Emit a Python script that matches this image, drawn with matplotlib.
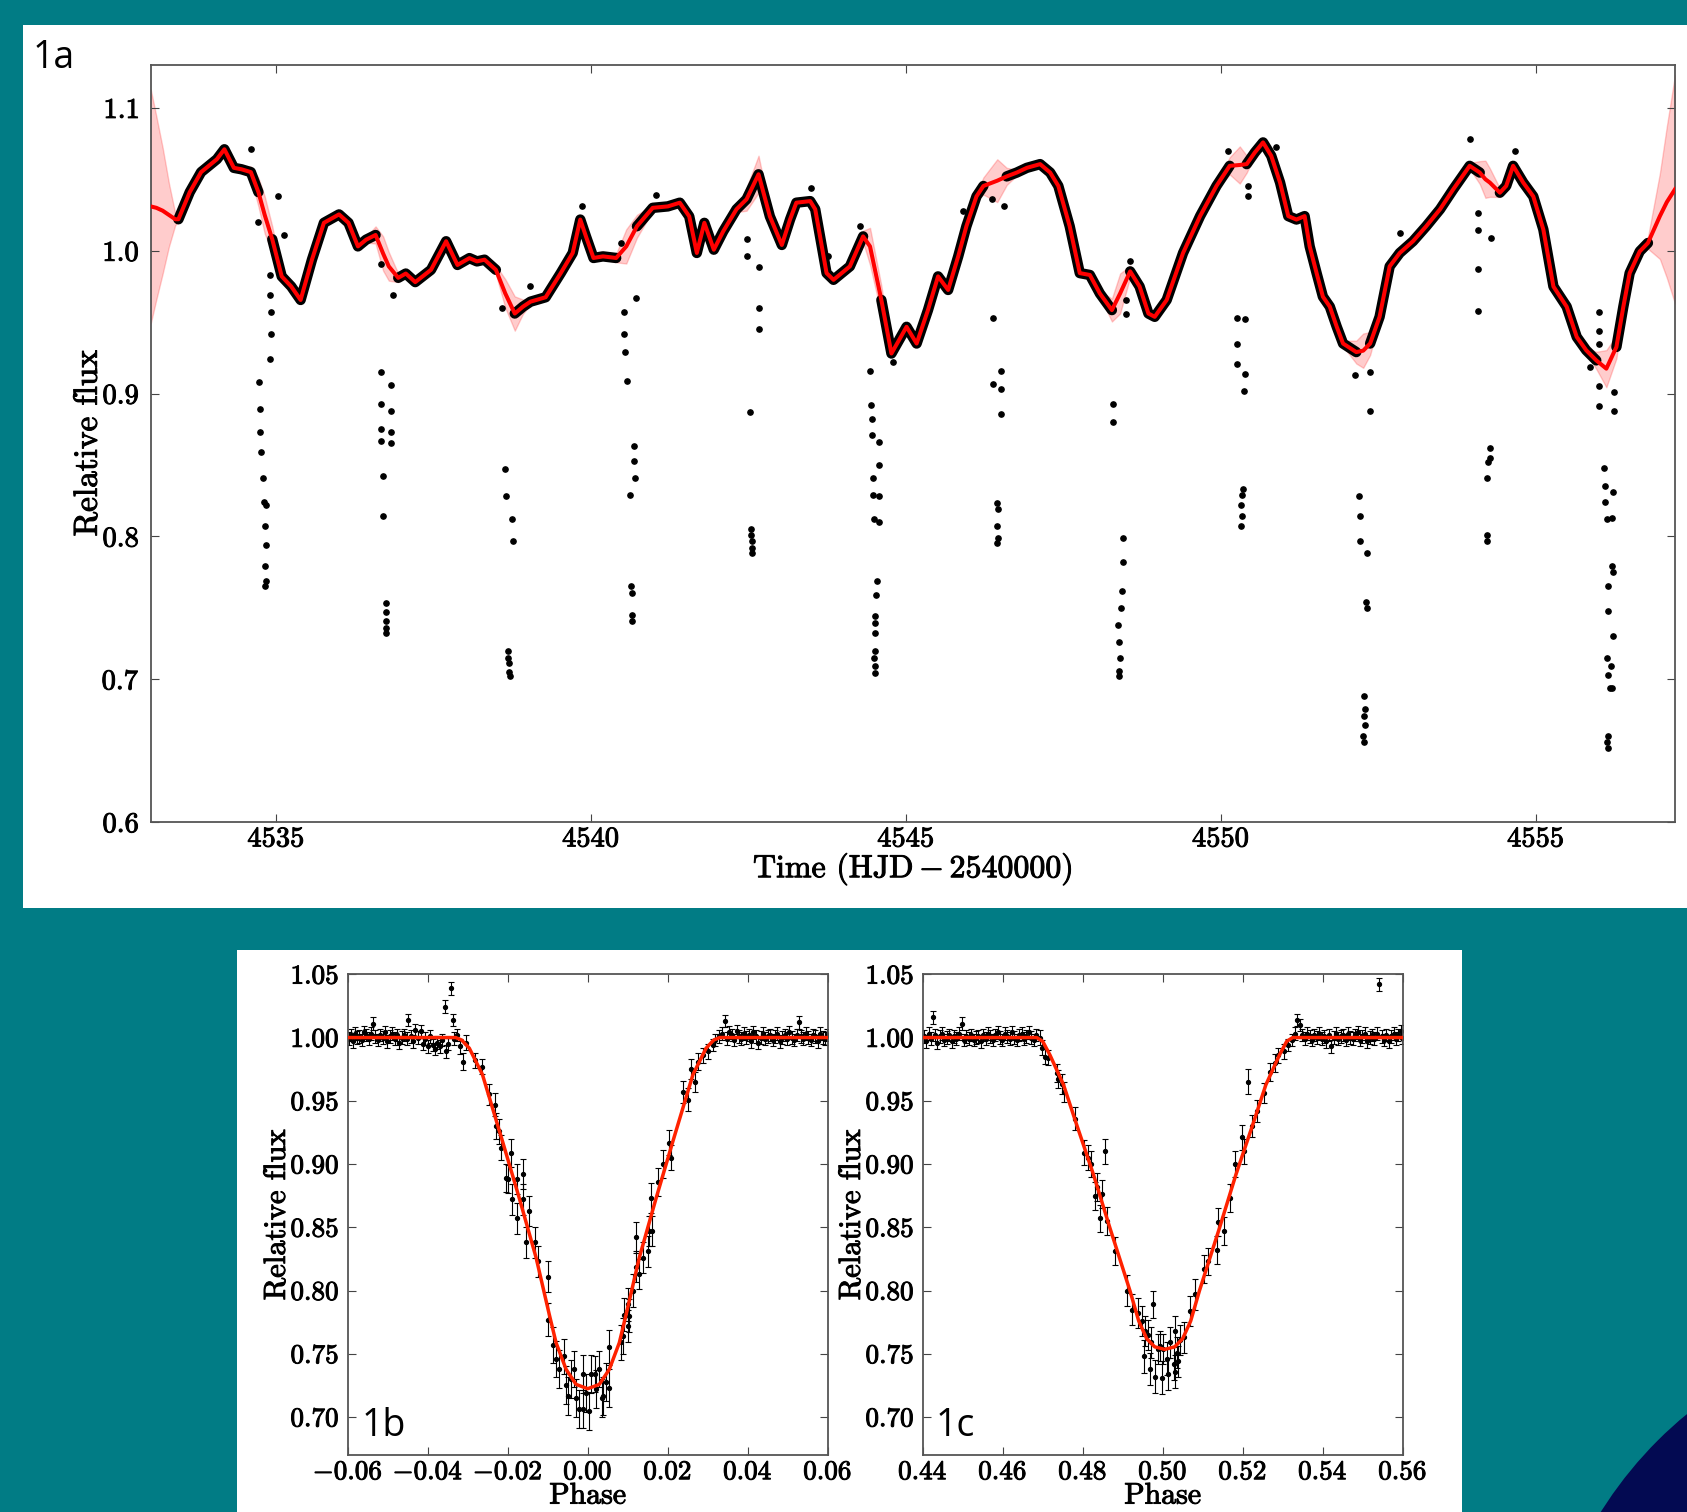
import numpy as np
import matplotlib
matplotlib.use("Agg")
import matplotlib.pyplot as plt
import matplotlib.patheffects as pe
from matplotlib.patches import Rectangle, Circle
from matplotlib.ticker import MultipleLocator, ScalarFormatter

plt.rcParams['font.family'] = 'serif'
plt.rcParams['font.serif'] = ['cmr10']
plt.rcParams['mathtext.fontset'] = 'cm'
plt.rcParams['axes.formatter.use_mathtext'] = True
plt.rcParams['axes.unicode_minus'] = True

TEAL = '#017c85'
NAVY = '#030a52'
HEAVY = [pe.withStroke(linewidth=0.7, foreground='black')]

# ---------------- light curve (1a) ----------------
# GP mean and half-width of its confidence band
t_gp = [4533.01, 4533.10, 4533.20, 4533.30, 4533.40, 4533.45, 4533.63, 4533.81, 4534.06, 4534.18,
        4534.33, 4534.45, 4534.60, 4534.72, 4534.82, 4534.94, 4535.09, 4535.24, 4535.39, 4535.57,
        4535.76, 4536.00, 4536.15, 4536.30, 4536.43, 4536.58, 4536.70, 4536.79, 4536.94, 4537.06,
        4537.21, 4537.46, 4537.70, 4537.88, 4538.07, 4538.19, 4538.31, 4538.49, 4538.64, 4538.79,
        4538.92, 4539.04, 4539.28, 4539.52, 4539.71, 4539.83, 4539.92, 4540.04, 4540.19, 4540.40,
        4540.56, 4540.73, 4540.98, 4541.22, 4541.41, 4541.56, 4541.68, 4541.80, 4541.95, 4542.10,
        4542.31, 4542.47, 4542.66, 4542.84, 4543.03, 4543.16, 4543.26, 4543.48, 4543.56, 4543.74,
        4543.85, 4544.11, 4544.32, 4544.43, 4544.61, 4544.77, 4545.01, 4545.17, 4545.35, 4545.51,
        4545.67, 4545.83, 4545.96, 4546.12, 4546.23, 4546.45, 4546.60, 4546.76, 4546.92, 4547.13,
        4547.29, 4547.42, 4547.60, 4547.76, 4547.92, 4548.08, 4548.27, 4548.40, 4548.56, 4548.71,
        4548.85, 4548.95, 4549.14, 4549.40, 4549.67, 4549.93, 4550.14, 4550.30, 4550.41, 4550.54,
        4550.67, 4550.80, 4550.94, 4551.07, 4551.20, 4551.33, 4551.41, 4551.52, 4551.62, 4551.73,
        4551.84, 4551.94, 4552.15, 4552.26, 4552.37, 4552.52, 4552.68, 4552.84, 4553.05, 4553.26,
        4553.48, 4553.69, 4553.95, 4554.11, 4554.20, 4554.27, 4554.43, 4554.53, 4554.64, 4554.80,
        4554.96, 4555.12, 4555.28, 4555.49, 4555.65, 4555.80, 4555.96, 4556.12, 4556.28, 4556.39,
        4556.49, 4556.65, 4556.78, 4556.97, 4557.08, 4557.21]
f_gp = [1.031, 1.030, 1.028, 1.025, 1.022, 1.022, 1.041, 1.055, 1.064, 1.071,
        1.058, 1.057, 1.055, 1.041, 1.025, 1.008, 0.982, 0.975, 0.9655, 0.9937,
        1.0195, 1.0254, 1.0195, 1.003, 1.0077, 1.011, 0.998, 0.989, 0.981, 0.984,
        0.978, 0.9866, 1.0066, 0.990, 0.9948, 0.9925, 0.9937, 0.9866, 0.970, 0.956,
        0.9608, 0.9643, 0.9674, 0.9843, 0.9984, 1.0218, 1.010, 0.9949, 0.996, 0.9949,
        1.003, 1.0171, 1.030, 1.031, 1.0336, 1.024, 0.9984, 1.0195, 1.0007, 1.0136,
        1.029, 1.036, 1.0535, 1.024, 1.004, 1.0218, 1.0336, 1.0347, 1.029, 0.9843,
        0.9796, 0.989, 1.010, 1.003, 0.9655, 0.928, 0.9467, 0.935, 0.9584, 0.982,
        0.9725, 0.996, 1.0171, 1.038, 1.0453, 1.049, 1.052, 1.0547, 1.058, 1.0606,
        1.0547, 1.0453, 1.0171, 0.9843, 0.983, 0.970, 0.9584, 0.970, 0.9855, 0.9749,
        0.956, 0.9537, 0.9655, 0.9984, 1.0242, 1.0453, 1.0594, 1.060, 1.0606, 1.0688,
        1.0758, 1.0664, 1.0477, 1.0242, 1.0218, 1.0242, 1.003, 0.9843, 0.9678, 0.9608,
        0.9467, 0.935, 0.929, 0.930, 0.935, 0.9537, 0.989, 0.9984, 1.0066, 1.0171,
        1.029, 1.043, 1.0594, 1.0547, 1.050, 1.0477, 1.0406, 1.0453, 1.0594, 1.0477,
        1.038, 1.0148, 0.9749, 0.9608, 0.9396, 0.9303, 0.9232, 0.9174, 0.9326, 0.9608,
        0.9843, 0.9995, 1.0054, 1.0242, 1.034, 1.043]
s_gp = [0.082, 0.064, 0.044, 0.022, 0.004, 0.002, 0.002, 0.002, 0.002, 0.002,
        0.002, 0.002, 0.004, 0.010, 0.013, 0.009, 0.003, 0.002, 0.002, 0.002,
        0.002, 0.002, 0.002, 0.002, 0.002, 0.006, 0.012, 0.010, 0.003, 0.002,
        0.002, 0.002, 0.002, 0.002, 0.002, 0.002, 0.002, 0.003, 0.010, 0.012,
        0.005, 0.002, 0.002, 0.002, 0.002, 0.002, 0.002, 0.002, 0.002, 0.003,
        0.012, 0.008, 0.002, 0.002, 0.002, 0.002, 0.002, 0.002, 0.002, 0.002,
        0.002, 0.008, 0.013, 0.004, 0.002, 0.002, 0.002, 0.002, 0.002, 0.002,
        0.002, 0.002, 0.004, 0.013, 0.010, 0.002, 0.002, 0.002, 0.002, 0.002,
        0.002, 0.002, 0.002, 0.002, 0.006, 0.015, 0.006, 0.002, 0.002, 0.002,
        0.002, 0.002, 0.002, 0.002, 0.002, 0.002, 0.008, 0.014, 0.004, 0.002,
        0.002, 0.002, 0.002, 0.002, 0.002, 0.002, 0.006, 0.013, 0.006, 0.002,
        0.002, 0.002, 0.002, 0.002, 0.002, 0.002, 0.002, 0.002, 0.002, 0.002,
        0.002, 0.002, 0.008, 0.012, 0.008, 0.002, 0.002, 0.002, 0.002, 0.002,
        0.002, 0.002, 0.002, 0.008, 0.013, 0.010, 0.003, 0.002, 0.002, 0.002,
        0.002, 0.002, 0.002, 0.002, 0.002, 0.002, 0.006, 0.013, 0.008, 0.002,
        0.002, 0.002, 0.004, 0.030, 0.053, 0.080]

# span of the observations and mid-eclipse times
t_obs_start, t_obs_end = 4533.42, 4556.80
t_ecl = [4534.82, 4536.73, 4538.70, 4540.62, 4542.57, 4544.50,
         4546.44, 4548.39, 4550.32, 4552.26, 4554.20, 4556.13]

# individual measurements off the dense band (eclipse points and outliers)
pts_t = [4534.735, 4534.752, 4534.752, 4534.769, 4534.786, 4534.803, 4534.838, 4534.821, 4534.838, 4534.821,
         4534.838, 4534.821, 4534.906, 4534.906, 4534.923, 4534.923, 4534.906,
         4536.66, 4536.67, 4536.67, 4536.67, 4536.67, 4536.70, 4536.70, 4536.75, 4536.74,
         4536.75, 4536.75, 4536.74, 4536.82, 4536.82, 4536.82, 4536.82, 4536.86,
         4538.58, 4538.632, 4538.650, 4538.752, 4538.769, 4538.684, 4538.684, 4538.701, 4538.701, 4538.718,
         4540.53, 4540.53, 4540.547, 4540.564, 4540.72, 4540.684, 4540.684, 4540.701, 4540.615, 4540.632,
         4540.650, 4540.650, 4540.650,
         4542.47, 4542.47, 4542.53, 4542.66, 4542.66, 4542.66, 4542.547, 4542.547, 4542.564, 4542.564, 4542.564,
         4544.43, 4544.444, 4544.462, 4544.462, 4544.479, 4544.479, 4544.496, 4544.58, 4544.57, 4544.58,
         4544.565, 4544.547, 4544.53, 4544.513, 4544.513, 4544.513, 4544.513, 4544.496, 4544.513, 4544.513,
         4546.38, 4546.38, 4546.51, 4546.51, 4546.51, 4546.444, 4546.462, 4546.444, 4546.462, 4546.444,
         4548.29, 4548.29, 4548.49, 4548.49, 4548.444, 4548.444, 4548.427, 4548.41, 4548.36, 4548.376,
         4548.393, 4548.376, 4548.376,
         4550.25, 4550.38, 4550.25, 4550.25, 4550.38, 4550.37, 4550.359, 4550.342, 4550.325, 4550.342, 4550.325,
         4552.13, 4552.37, 4552.37, 4552.188, 4552.205, 4552.205, 4552.325, 4552.308, 4552.325, 4552.274,
         4552.291, 4552.274, 4552.291, 4552.256, 4552.274,
         4554.08, 4554.08, 4554.08, 4554.08, 4554.29, 4554.27, 4554.27, 4554.24, 4554.22, 4554.22, 4554.22,
         4556.00, 4556.00, 4556.00, 4556.00, 4556.01, 4556.24, 4556.24, 4556.085, 4556.103, 4556.103,
         4556.137, 4556.154, 4556.154, 4556.137, 4556.154, 4556.171, 4556.154, 4556.137, 4556.154, 4556.222,
         4556.205, 4556.205, 4556.222, 4556.222, 4556.188, 4556.205,
         4534.60, 4535.03, 4534.72, 4535.12, 4539.03, 4539.86, 4540.48, 4541.04, 4543.50, 4543.77,
         4544.27, 4544.80, 4545.91, 4546.36, 4546.56, 4548.56, 4550.12, 4550.43, 4550.43, 4550.88,
         4552.84, 4553.95, 4554.67, 4555.86]
pts_f = [0.908, 0.889, 0.873, 0.859, 0.841, 0.824, 0.822, 0.807, 0.794, 0.779,
         0.769, 0.765, 0.983, 0.969, 0.957, 0.942, 0.924,
         0.991, 0.915, 0.893, 0.875, 0.867, 0.842, 0.814, 0.753, 0.747,
         0.741, 0.736, 0.732, 0.906, 0.888, 0.873, 0.865, 0.969,
         0.9596, 0.847, 0.828, 0.812, 0.797, 0.720, 0.715, 0.711, 0.705, 0.702,
         0.957, 0.942, 0.929, 0.909, 0.967, 0.863, 0.853, 0.841, 0.829, 0.765,
         0.760, 0.745, 0.741,
         1.008, 0.996, 0.887, 0.9885, 0.960, 0.9455, 0.805, 0.801, 0.797, 0.792, 0.788,
         0.916, 0.892, 0.882, 0.871, 0.841, 0.829, 0.812, 0.866, 0.850, 0.828,
         0.810, 0.769, 0.759, 0.744, 0.739, 0.732, 0.720, 0.715, 0.709, 0.704,
         0.9526, 0.907, 0.916, 0.903, 0.886, 0.823, 0.819, 0.807, 0.799, 0.795,
         0.8927, 0.8798, 0.9655, 0.956, 0.799, 0.782, 0.762, 0.750, 0.738, 0.726,
         0.715, 0.706, 0.702,
         0.9526, 0.952, 0.935, 0.921, 0.914, 0.902, 0.833, 0.829, 0.822, 0.814, 0.807,
         0.9127, 0.915, 0.888, 0.828, 0.814, 0.797, 0.788, 0.754, 0.750, 0.688,
         0.679, 0.674, 0.668, 0.660, 0.656,
         1.0265, 1.0148, 0.987, 0.958, 1.009, 0.862, 0.855, 0.852, 0.841, 0.801, 0.797,
         0.957, 0.944, 0.935, 0.9056, 0.8915, 0.901, 0.888, 0.848, 0.835, 0.824,
         0.812, 0.765, 0.748, 0.715, 0.703, 0.694, 0.660, 0.656, 0.652, 0.831,
         0.813, 0.779, 0.775, 0.730, 0.709, 0.694,
         1.071, 1.038, 1.020, 1.011, 0.975, 1.031, 1.0054, 1.039, 1.044, 0.996,
         1.017, 0.922, 1.0277, 1.036, 1.031, 0.9925, 1.070, 1.0453, 1.038, 1.0723,
         1.0125, 1.078, 1.070, 0.9185]

# ---------------- primary eclipse (1b) ----------------
b_flat_phase = [-0.0598, -0.0593, -0.0587, -0.0582, -0.0576, -0.0571, -0.0565, -0.0560, -0.0554, -0.0548,
                -0.0543, -0.0536, -0.0531, -0.0525, -0.0519, -0.0513, -0.0507, -0.0501, -0.0495, -0.0489,
                -0.0483, -0.0477, -0.0471, -0.0465, -0.0459, -0.0452, -0.0449, -0.0443, -0.0437, -0.0431,
                -0.0425, -0.0418, -0.0412, -0.0406, -0.0400, -0.0394, -0.0388, -0.0382, -0.0376, -0.0370,
                -0.0364, -0.0358, -0.0355, -0.0349, -0.0343, -0.0338, -0.0334, -0.0328,
                0.0335, 0.0342, 0.0348, 0.0354, 0.0360, 0.0366, 0.0372, 0.0378, 0.0384, 0.0390,
                0.0396, 0.0402, 0.0408, 0.0414, 0.0420, 0.0426, 0.0432, 0.0438, 0.0444, 0.0450,
                0.0456, 0.0462, 0.0468, 0.0474, 0.0480, 0.0486, 0.0492, 0.0498, 0.0504, 0.0510,
                0.0516, 0.0522, 0.0527, 0.0533, 0.0539, 0.0545, 0.0551, 0.0557, 0.0563, 0.0569,
                0.0575, 0.0581, 0.0587, 0.0593, 0.0598]
b_flat_flux = [0.999, 1.002, 0.997, 1.003, 1.000, 1.001, 0.998, 1.004, 1.002, 0.999,
               1.003, 1.011, 1.001, 0.998, 1.002, 1.000, 1.004, 0.997, 1.001, 1.003,
               0.999, 1.002, 0.996, 1.000, 1.002, 0.999, 1.014, 1.001, 0.997, 1.006,
               1.000, 1.005, 0.995, 0.999, 0.993, 1.001, 0.994, 0.991, 0.996, 0.993,
               0.998, 1.0245, 0.989, 0.995, 1.039, 1.014, 0.999, 1.002,
               1.003, 1.013, 0.999, 1.004, 1.002, 0.998, 1.005, 1.001, 0.999, 1.003,
               1.000, 1.002, 0.997, 1.004, 1.001, 0.996, 1.000, 1.003, 0.999, 1.001,
               1.002, 0.998, 1.001, 1.003, 0.997, 1.000, 1.002, 0.999, 1.004, 1.000,
               0.998, 1.002, 1.012, 1.001, 0.999, 1.003, 1.000, 0.998, 1.002, 1.001,
               0.997, 1.003, 1.000, 0.999, 1.002]
b_flat_err = 0.005
b_dip_phase = [-0.0320, -0.0313, -0.0305, -0.0283, -0.0265, -0.0246, -0.0233, -0.0229, -0.0221, -0.0217,
               -0.0204, -0.0200, -0.0192, -0.0189, -0.0176, -0.0176, -0.0161, -0.0161, -0.0154, -0.0146,
               -0.0131, -0.0125, -0.0100, -0.0100, -0.0088, -0.0079, -0.0071, -0.0059, -0.0054, -0.0050,
               -0.0042, -0.0034, -0.0029, -0.0021, -0.0013, -0.0011, -0.0004, 0.0004, 0.0008, 0.0017,
               0.0021, 0.0029, 0.0036, 0.0038, 0.0046, 0.0053, 0.0053, 0.0083, 0.0087, 0.0091,
               0.0100, 0.0100, 0.0104, 0.0112, 0.0121, 0.0121, 0.0129, 0.0138, 0.0150, 0.0154,
               0.0158, 0.0160, 0.0175, 0.0188, 0.0203, 0.0208, 0.0238, 0.0250, 0.0258, 0.0269,
               0.0275, 0.0288, 0.0300, 0.0313, 0.0318, 0.0327]
b_dip_flux = [0.993, 0.981, 0.996, 0.982, 0.977, 0.955, 0.947, 0.930, 0.926, 0.913,
              0.889, 0.888, 0.909, 0.872, 0.888, 0.857, 0.892, 0.872, 0.838, 0.863,
              0.838, 0.823, 0.811, 0.777, 0.757, 0.746, 0.738, 0.748, 0.725, 0.717,
              0.730, 0.738, 0.715, 0.706, 0.734, 0.706, 0.719, 0.705, 0.734, 0.734,
              0.722, 0.738, 0.715, 0.717, 0.728, 0.755, 0.723, 0.759, 0.764, 0.781,
              0.772, 0.789, 0.780, 0.800, 0.842, 0.819, 0.813, 0.826, 0.831, 0.847,
              0.873, 0.847, 0.886, 0.900, 0.917, 0.905, 0.957, 0.951, 0.975, 0.965,
              0.981, 0.986, 0.989, 0.994, 0.998, 1.001]
b_dip_err = [0.006, 0.007, 0.006, 0.006, 0.006, 0.008, 0.009, 0.010, 0.010, 0.010,
             0.011, 0.011, 0.011, 0.012, 0.012, 0.012, 0.012, 0.012, 0.012, 0.012,
             0.012, 0.012, 0.012, 0.013, 0.014, 0.014, 0.015, 0.014, 0.015, 0.015,
             0.015, 0.014, 0.015, 0.015, 0.015, 0.015, 0.015, 0.015, 0.015, 0.014,
             0.015, 0.014, 0.015, 0.015, 0.015, 0.014, 0.015, 0.014, 0.014, 0.013,
             0.013, 0.013, 0.013, 0.013, 0.012, 0.012, 0.012, 0.012, 0.012, 0.012,
             0.012, 0.012, 0.011, 0.011, 0.010, 0.010, 0.009, 0.009, 0.008, 0.008,
             0.007, 0.006, 0.006, 0.005, 0.005, 0.005]
b_model_phase = [-0.06, -0.033, -0.0315, -0.0296, -0.0263, -0.0238, -0.0213, -0.0171, -0.0129, -0.0096,
                 -0.0079, -0.0054, -0.0029, 0.0, 0.0029, 0.0054, 0.0079, 0.0096, 0.0129, 0.0171,
                 0.0213, 0.0238, 0.0263, 0.0296, 0.0315, 0.033, 0.06]
b_model_flux = [1.0, 1.0, 0.998, 0.9916, 0.9706, 0.9443, 0.918, 0.873, 0.826, 0.781,
                0.7587, 0.7377, 0.7258, 0.7224, 0.7258, 0.7377, 0.7587, 0.781, 0.826, 0.873,
                0.918, 0.9443, 0.9706, 0.9916, 0.998, 1.0, 1.0]

# ---------------- secondary eclipse (1c) ----------------
c_flat_phase = [0.4403, 0.4409, 0.4415, 0.4421, 0.4425, 0.4430, 0.4436, 0.4442, 0.4448, 0.4454,
                0.4460, 0.4466, 0.4472, 0.4478, 0.4484, 0.4490, 0.4498, 0.4503, 0.4509, 0.4515,
                0.4521, 0.4527, 0.4533, 0.4539, 0.4545, 0.4551, 0.4557, 0.4563, 0.4569, 0.4575,
                0.4581, 0.4587, 0.4593, 0.4599, 0.4605, 0.4611, 0.4617, 0.4623, 0.4629, 0.4635,
                0.4641, 0.4647, 0.4653, 0.4659, 0.4665, 0.4671, 0.4677, 0.4683,
                0.5330, 0.5335, 0.5343, 0.5349, 0.5355, 0.5361, 0.5367, 0.5373, 0.5379, 0.5385,
                0.5391, 0.5397, 0.5403, 0.5409, 0.5415, 0.5421, 0.5427, 0.5433, 0.5439, 0.5445,
                0.5451, 0.5457, 0.5463, 0.5469, 0.5475, 0.5481, 0.5487, 0.5493, 0.5499, 0.5505,
                0.5511, 0.5517, 0.5523, 0.5529, 0.5535, 0.5541, 0.5547, 0.5553, 0.5559, 0.5565,
                0.5571, 0.5577, 0.5583, 0.5589, 0.5595, 0.5599]
c_flat_flux = [1.001, 0.997, 1.003, 0.999, 1.016, 1.002, 0.996, 1.001, 1.003, 0.998,
               1.000, 1.002, 0.997, 1.001, 0.999, 1.003, 1.011, 0.998, 1.001, 0.999,
               1.002, 0.998, 1.000, 1.001, 0.997, 1.002, 0.999, 1.003, 1.001, 0.998,
               1.002, 1.004, 1.000, 0.998, 1.003, 1.001, 0.999, 1.004, 1.000, 0.998,
               1.002, 1.003, 0.999, 1.001, 1.004, 1.000, 0.998, 1.002,
               1.003, 1.014, 1.010, 1.002, 0.999, 1.003, 1.001, 0.998, 1.002, 1.000,
               1.003, 0.999, 1.001, 0.997, 1.002, 0.993, 1.000, 1.003, 0.999, 1.001,
               1.002, 0.998, 1.003, 1.000, 0.999, 1.002, 1.004, 0.998, 1.001, 1.003,
               0.997, 1.000, 1.002, 0.999, 1.003, 1.042, 1.001, 0.998, 1.002, 0.997,
               1.001, 1.003, 0.999, 1.002, 1.005, 1.000]
c_flat_err = 0.005
c_dip_phase = [0.4693, 0.4698, 0.4706, 0.4712, 0.4735, 0.4739, 0.4748, 0.4752, 0.4781, 0.4802,
               0.4814, 0.4821, 0.4856, 0.4835, 0.4831, 0.4848, 0.4843, 0.4860, 0.4881, 0.4910,
               0.4923, 0.4939, 0.4947, 0.4952, 0.4955, 0.4964, 0.4968, 0.4970, 0.4975, 0.4981,
               0.4989, 0.4994, 0.4998, 0.5000, 0.5010, 0.5014, 0.5018, 0.5027, 0.5031, 0.5031,
               0.5035, 0.5039, 0.5043, 0.5052, 0.5068, 0.5081, 0.5102, 0.5114, 0.5135, 0.5139,
               0.5152, 0.5168, 0.5181, 0.5197, 0.5202, 0.5214, 0.5222, 0.5235, 0.5252, 0.5268,
               0.5281, 0.5288, 0.5302, 0.5314, 0.5322]
c_dip_flux = [1.000, 0.992, 0.985, 0.984, 0.972, 0.967, 0.963, 0.957, 0.936, 0.909,
              0.905, 0.900, 0.910, 0.882, 0.875, 0.876, 0.857, 0.855, 0.831, 0.800,
              0.785, 0.782, 0.776, 0.748, 0.768, 0.765, 0.738, 0.759, 0.789, 0.732,
              0.754, 0.756, 0.731, 0.754, 0.746, 0.734, 0.759, 0.742, 0.736, 0.768,
              0.751, 0.744, 0.761, 0.763, 0.784, 0.797, 0.817, 0.823, 0.832, 0.854,
              0.847, 0.873, 0.900, 0.921, 0.910, 0.965, 0.930, 0.942, 0.956, 0.973,
              0.980, 0.986, 0.989, 0.994, 0.998]
c_dip_err = [0.006, 0.006, 0.006, 0.006, 0.007, 0.007, 0.008, 0.008, 0.009, 0.010,
             0.010, 0.010, 0.010, 0.011, 0.011, 0.011, 0.011, 0.011, 0.011, 0.012,
             0.012, 0.012, 0.012, 0.013, 0.012, 0.012, 0.013, 0.012, 0.011, 0.013,
             0.012, 0.012, 0.013, 0.012, 0.013, 0.013, 0.012, 0.013, 0.013, 0.012,
             0.012, 0.012, 0.012, 0.012, 0.012, 0.012, 0.011, 0.011, 0.011, 0.011,
             0.011, 0.011, 0.010, 0.010, 0.010, 0.010, 0.009, 0.009, 0.008, 0.007,
             0.007, 0.006, 0.006, 0.005, 0.005]
c_model_phase = [0.44, 0.4685, 0.470, 0.4718, 0.4752, 0.4785, 0.4827, 0.4868, 0.4918, 0.4940,
                 0.496, 0.498, 0.5005, 0.503, 0.505, 0.507, 0.5092, 0.5142, 0.5183, 0.5225,
                 0.5258, 0.5292, 0.531, 0.5325, 0.56]
c_model_flux = [1.0, 1.0, 0.997, 0.9863, 0.9627, 0.931, 0.8916, 0.8495, 0.800, 0.776,
                0.762, 0.7555, 0.7535, 0.7555, 0.762, 0.776, 0.800, 0.8495, 0.8916, 0.931,
                0.9627, 0.9863, 0.997, 1.0, 1.0]

# ---------------- figure ----------------
W, H = 1687, 1512
fig = plt.figure(figsize=(W / 100, H / 100), dpi=100, facecolor=TEAL)

bg = fig.add_axes([0, 0, 1, 1])
bg.set_xlim(0, W)
bg.set_ylim(H, 0)
bg.axis('off')
bg.add_patch(Rectangle((23, 25), W - 23, 883, fc='white', ec='none'))
bg.add_patch(Rectangle((237, 950), 1225, H - 950, fc='white', ec='none'))
bg.add_patch(Circle((1944, 1727), 405, fc=NAVY, ec='none'))


def px_axes(left, top, right, bottom):
    return fig.add_axes([left / W, 1 - bottom / H, (right - left) / W, (bottom - top) / H])


def style(ax, size):
    ax.tick_params(direction='in', top=True, right=True, length=6, width=0.8,
                   labelsize=size, color='#444444')
    for sp in ax.spines.values():
        sp.set_color('#555555')
        sp.set_linewidth(1.3)
    ax.xaxis.set_major_formatter(ScalarFormatter(useOffset=False))
    ax.yaxis.set_major_formatter(ScalarFormatter(useOffset=False))


all_axes = []

# panel 1a
ax = px_axes(150.7, 65, 1675, 822)
all_axes.append(ax)
t_arr = np.array(t_gp)
f_arr = np.array(f_gp)
s_arr = np.array(s_gp)
obs = (t_arr >= t_obs_start) & (t_arr <= t_obs_end)
for te in t_ecl:
    obs &= np.abs(t_arr - te) > 0.09
ax.fill_between(t_arr, f_arr - s_arr, f_arr + s_arr, color='red', alpha=0.2,
                edgecolor=(1, 0, 0, 0.25), lw=1, zorder=1)
ax.plot(t_arr, np.where(obs, f_arr, np.nan), color='black', lw=7.5,
        solid_capstyle='round', solid_joinstyle='round', zorder=2)
ax.plot(pts_t, pts_f, 'o', color='black', ms=3.8, zorder=3)
ax.plot(t_arr, f_arr, color='red', lw=2.9, zorder=4)
ax.set_xlim(4533.01, 4557.21)
ax.set_ylim(0.6, 1.13)
ax.xaxis.set_major_locator(MultipleLocator(5))
ax.yaxis.set_major_locator(MultipleLocator(0.1))
style(ax, 20.5)
ax.tick_params(axis='x', pad=3)
ax.tick_params(axis='y', pad=8)
ax.set_xlabel(r'Time $(\mathrm{HJD} - 2540000)$', fontsize=23)
ax.set_ylabel('Relative flux', fontsize=24)
ax.xaxis.set_label_coords(0.5, -0.063)
ax.xaxis.label.set_va('center')
ax.yaxis.set_label_coords(-0.041, 0.5)
ax.yaxis.label.set_va('center')

# panels 1b and 1c
panels = [
    (347.7, (b_flat_phase, b_flat_flux, b_flat_err), (b_dip_phase, b_dip_flux, b_dip_err),
     (b_model_phase, b_model_flux), (-0.06, 0.06)),
    (922.7, (c_flat_phase, c_flat_flux, c_flat_err), (c_dip_phase, c_dip_flux, c_dip_err),
     (c_model_phase, c_model_flux), (0.44, 0.56)),
]
for left, flat, dip, model, xlim in panels:
    axp = px_axes(left, 974.3, left + 480, 1455)
    all_axes.append(axp)
    for ph, fl, er in (flat, dip):
        axp.errorbar(ph, fl, yerr=er, fmt='o', color='black', ms=2.8, elinewidth=0.8,
                     capsize=2.5, capthick=0.8, zorder=2)
    axp.plot(model[0], model[1], color='#ff2200', lw=2.5, zorder=3)
    axp.set_xlim(*xlim)
    axp.set_ylim(0.67, 1.05)
    axp.xaxis.set_major_locator(MultipleLocator(0.02))
    axp.yaxis.set_major_locator(MultipleLocator(0.05))
    style(axp, 19.5)
    axp.tick_params(axis='x', pad=4)
    axp.tick_params(axis='y', pad=6)
    axp.set_xlabel('Phase', fontsize=21.5)
    axp.set_ylabel('Relative flux', fontsize=22)
    axp.xaxis.set_label_coords(0.5, -0.085)
    axp.xaxis.label.set_va('center')
    axp.yaxis.set_label_coords(-0.147, 0.5)
    axp.yaxis.label.set_va('center')

# panel tags, drawn above every axes
for x, y, s in [(33, 68, '1a'), (362, 1436, '1b'), (936, 1436, '1c')]:
    fig.text(x, y, s, transform=bg.transData, fontsize=27, family='Open Sans',
             color='black', va='baseline', ha='left')

# slightly heavier axis text
fig.canvas.draw()
for a in all_axes:
    for lab in a.get_xticklabels() + a.get_yticklabels() + [a.xaxis.label, a.yaxis.label]:
        lab.set_path_effects(HEAVY)

fig.savefig('out.png', dpi=100, facecolor=fig.get_facecolor())
